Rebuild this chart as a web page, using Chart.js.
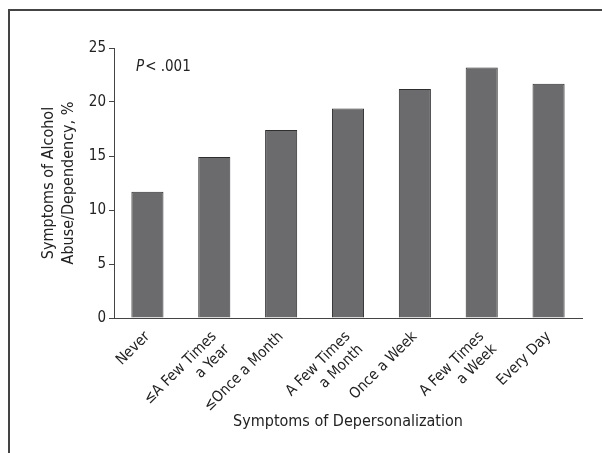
<!DOCTYPE html>
<html>
<head>
<meta charset="utf-8">
<script src="https://cdn.jsdelivr.net/npm/chart.js@4/dist/chart.umd.min.js"></script>
<style>
  html, body { margin: 0; padding: 0; background: #fff; }
  #wrap { position: relative; width: 602px; height: 453px; }
  #frame { position: absolute; left: 8px; top: 9px; right: 0; bottom: 0;
           border-left: 2px solid #444; border-top: 2px solid #444; }
  canvas { position: absolute; left: 0; top: 0; }
</style>
</head>
<body>
<div id="wrap">
  <div id="frame"></div>
  <canvas id="depChart" width="602" height="453"></canvas>
</div>
<script>
const categories = [
  'Never',
  ['\u2264A Few Times', 'a Year'],
  '\u2264Once a Month',
  ['A Few Times', 'a Month'],
  'Once a Week',
  ['A Few Times', 'a Week'],
  'Every Day'
];
const alcoholPct = [11.7, 14.9, 17.4, 19.4, 21.2, 23.2, 21.7];
const yTicks = [0, 5, 10, 15, 20, 25];

const FONT = '"Liberation Sans Narrow", "DejaVu Sans Condensed", sans-serif';

// P value annotation in the upper left of the plot
const pValue = {
  id: 'pValue',
  afterDraw(chart) {
    const { ctx, scales } = chart;
    const x = scales.x.left + 22;
    const y = scales.y.getPixelForValue(23.2);
    ctx.save();
    ctx.fillStyle = '#222';
    ctx.textBaseline = 'middle';
    ctx.font = 'italic 15px ' + FONT;
    ctx.fillText('P', x, y);
    const w = ctx.measureText('P').width;
    ctx.font = '15px ' + FONT;
    ctx.fillText('< .001', x + w + 1, y);
    ctx.restore();
  }
};

new Chart(document.getElementById('depChart'), {
  type: 'bar',
  data: {
    labels: categories,
    datasets: [{
      data: alcoholPct,
      backgroundColor: '#6b6b6d',
      borderColor: '#2e2e2e',
      borderWidth: 1,
      categoryPercentage: 1,
      barPercentage: 0.48
    }]
  },
  options: {
    responsive: false,
    animation: false,
    layout: { padding: { left: 30, top: 48, right: 20, bottom: 0 } },
    plugins: { legend: { display: false }, tooltip: { enabled: false } },
    scales: {
      x: {
        grid: { display: false },
        border: { color: '#444', width: 1 },
        ticks: { color: '#222', font: { family: FONT, size: 15 }, minRotation: 45, maxRotation: 45, padding: 2 },
        title: { display: true, text: 'Symptoms of Depersonalization', color: '#222',
                 font: { family: FONT, size: 16 }, padding: { top: 4, bottom: 22 } },
        afterFit(scale) { scale.height = 135; }
      },
      y: {
        min: 0,
        max: 25,
        afterBuildTicks(scale) { scale.ticks = yTicks.map(v => ({ value: v })); },
        grid: { drawOnChartArea: false, drawTicks: true, tickLength: 5, color: '#444' },
        border: { color: '#444', width: 1 },
        ticks: { color: '#222', font: { family: FONT, size: 15 }, padding: 3 },
        title: { display: true, text: ['Symptoms of Alcohol', 'Abuse/Dependency, %'], color: '#222',
                 font: { family: FONT, size: 16, lineHeight: 1.25 }, padding: { top: 8.5, bottom: 0 } },
        afterFit(scale) { scale.width = 84; }
      }
    }
  },
  plugins: [pValue]
});
</script>
</body>
</html>
